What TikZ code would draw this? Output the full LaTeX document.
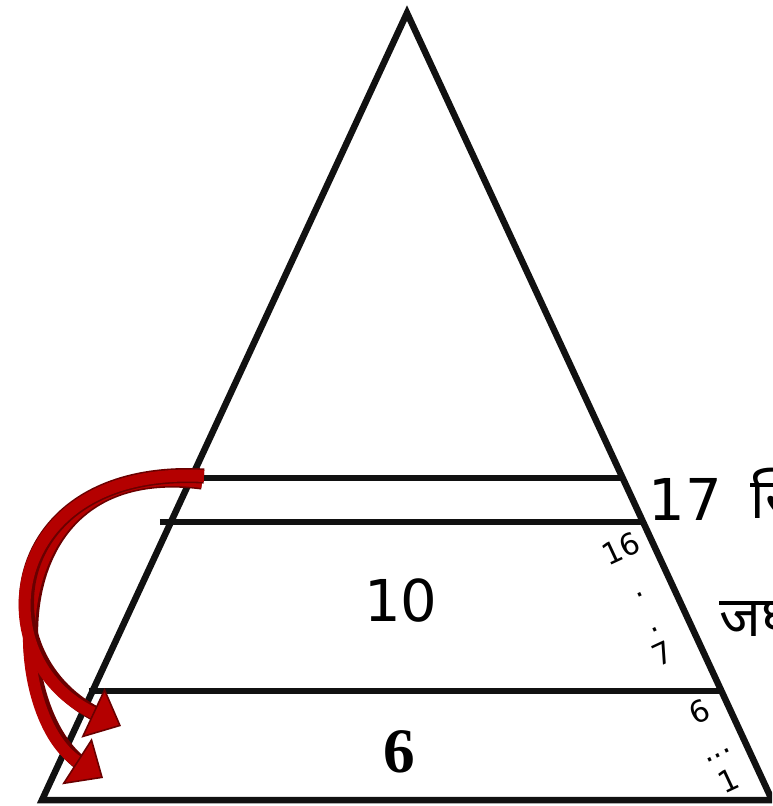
\documentclass[tikz,border=0pt]{standalone}
\usepackage{fontspec}
\setmainfont{DejaVu Sans}
\newfontfamily\hindifont[Script=Devanagari]{Noto Sans}
\newfontfamily\numserif{Liberation Serif}
\usetikzlibrary{positioning,arrows.meta,calc}
\definecolor{edgeblack}{RGB}{17,17,17}
\definecolor{arrowred}{RGB}{180,0,0}
\definecolor{arrowdark}{RGB}{105,0,0}

\begin{document}
\begin{tikzpicture}[x=0.01cm, y=-0.01cm,
  tri/.style={draw=edgeblack, line width=1.85pt, line join=miter},
  band/.style={draw=edgeblack, line width=1.45pt},
  bignum/.style={inner sep=0pt, font=\fontsize{16.4}{18}\selectfont},
  smallnum/.style={inner sep=0pt, rotate=25, font=\fontsize{8.5}{10}\selectfont},
  hinditext/.style={inner sep=0pt, anchor=base west, font=\hindifont\fontsize{16}{18}\selectfont},
  shiftout/.style={draw=arrowdark, line width=4.3pt, shorten >=6pt},
  shiftin/.style={draw=arrowred, line width=3.4pt,
    -{Triangle[length=8.8pt, width=15.5pt, line width=0.45pt, color=arrowdark, fill=arrowred]}}]
  \clip (0,0) rectangle (772,806);

  % triangle
  \coordinate (apex) at (407,13);
  \coordinate (bl) at (42,800);
  \coordinate (br) at (772,800);
  \draw[tri] (bl) -- (apex) -- (br) -- cycle;

  % bands
  \coordinate (l1) at ($(apex)!0.5909!(bl)$);
  \coordinate (r1) at ($(apex)!0.5909!(br)$);
  \coordinate (l2) at ($(apex)!0.6468!(bl)+(-11,0)$);
  \coordinate (r2) at ($(apex)!0.6468!(br)$);
  \coordinate (l3) at ($(apex)!0.8615!(bl)+(-4,0)$);
  \coordinate (r3) at ($(apex)!0.8615!(br)$);
  \draw[band] (l1) -- (r1);
  \draw[band] (l2) -- (r2);
  \draw[band] (l3) -- (r3);

  % labels
  \node[bignum, anchor=base west] (seventeen) at (648,520) {17};
  \node[hinditext] (topword) at (750,518) {स्थिति};
  \node[hinditext] (lowword) at (719,636) {जघन्य};
  \node[bignum] (ten) at (401,600) {10};
  \node[inner sep=0pt, font=\numserif\bfseries\fontsize{18}{20}\selectfont] (six) at (399,752) {6};

  \node[smallnum] (sixteen) at (621,549) {16};
  \node[smallnum, anchor=base] (dotA) at (641,596) {.};
  \node[smallnum, anchor=base] (dotB) at (656,631) {.};
  \node[smallnum] (seven) at (663,654) {7};
  \node[smallnum] (sixsmall) at (700,712) {6};
  \node[smallnum, anchor=base] (dots) at (719,757) {...};
  \node[smallnum] (one) at (729,781) {1};

  % shift arrows
  \coordinate (tailB) at (202,482);
  \coordinate (tipB) at (103,778);
  \coordinate (tailA) at (204,476);
  \coordinate (tipA) at (121,726);
  \draw[shiftout] (tailB) .. controls (-10,455) and (5,715) .. (tipB);
  \draw[shiftin] (tailB) .. controls (-10,455) and (5,715) .. (tipB);
  \draw[shiftout] (tailA) .. controls (0,465) and (-20,660) .. (tipA);
  \draw[shiftin] (tailA) .. controls (0,465) and (-20,660) .. (tipA);
\end{tikzpicture}
\end{document}
